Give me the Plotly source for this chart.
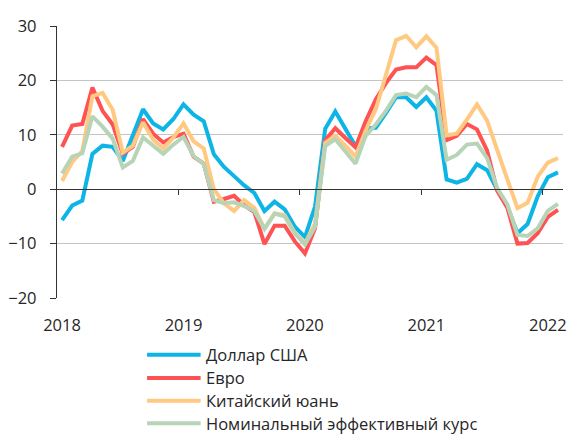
import plotly.graph_objects as go

# Monthly data, Jan 2018 – Feb 2022 (% change, y/y)
months = list(range(50))
year_labels = ["2018", "2019", "2020", "2021", "2022"]
year_pos = [0, 12, 24, 36, 48]
year_bounds = [11.5, 23.5, 35.5, 47.5]

usd = [-5.7, -3.0, -2.1, 6.5, 8.0, 7.8, 5.2, 9.9, 14.7, 12.1, 11.0, 12.9,
       15.6, 13.7, 12.5, 6.4, 4.1, 2.4, 0.7, -0.7, -4.0, -2.3, -3.7, -6.9,
       -8.8, -3.2, 11.1, 14.3, 11.0, 7.9, 11.2, 11.3, 14.0, 16.9, 16.9, 15.1,
       16.9, 14.4, 1.8, 1.2, 1.9, 4.6, 3.5, -0.1, -3.2, -8.1, -6.4, -1.3,
       2.2, 3.1]
eur = [7.8, 11.7, 12.0, 18.7, 14.4, 11.9, 6.5, 7.8, 12.9, 10.2, 8.6, 9.6,
       10.2, 6.0, 4.7, -2.3, -1.8, -1.2, -3.0, -4.2, -10.1, -6.7, -6.7, -9.6,
       -11.8, -7.2, 9.0, 11.2, 9.4, 7.7, 12.5, 16.5, 19.5, 22.0, 22.4, 22.4,
       24.2, 22.8, 9.0, 9.8, 12.0, 11.0, 7.1, -0.3, -3.4, -10.0, -9.9, -8.1,
       -5.1, -3.8]
cny = [1.5, 5.0, 7.0, 17.1, 17.7, 14.6, 6.7, 8.0, 12.3, 9.1, 7.5, 9.5,
       12.1, 8.8, 7.5, 0.0, -2.6, -4.0, -2.0, -3.4, -7.3, -4.4, -4.8, -8.0,
       -10.0, -6.3, 8.5, 9.8, 8.0, 6.0, 10.8, 14.7, 21.0, 27.4, 28.2, 26.1,
       28.1, 26.0, 9.9, 10.2, 12.8, 15.6, 12.6, 7.0, 1.8, -3.5, -2.5, 2.3,
       4.9, 5.7]
neer = [2.9, 6.0, 6.6, 13.4, 11.5, 9.3, 4.0, 5.2, 9.5, 8.0, 6.5, 8.2,
        9.6, 6.1, 4.6, -2.0, -2.6, -2.4, -3.1, -4.0, -7.3, -4.5, -5.0, -8.1,
        -10.2, -6.9, 7.9, 9.2, 7.0, 4.7, 9.8, 11.9, 14.4, 17.3, 17.6, 16.9,
        18.8, 17.3, 5.4, 6.3, 8.2, 8.4, 5.7, 0.2, -2.8, -8.4, -8.6, -7.2,
        -4.0, -2.7]

names = ["Доллар США", "Евро", "Китайский юань", "Номинальный эффективный курс"]
series = [usd, eur, cny, neer]
colors = ["#0DB4E6", "#FF5252", "#FFC982", "#B7D4B7"]

FONT = "Open Sans"
TXT = "#262626"
FS = 16.5

fig = go.Figure()
for nm, ys, c in zip(names, series, colors):
    fig.add_trace(go.Scatter(x=months, y=ys, mode="lines", name=nm,
                             line=dict(color=c, width=4), showlegend=False))

# invisible helper trace for the axis drawn at y = 0
fig.add_trace(go.Scatter(x=months, y=[None] * len(months), xaxis="x2",
                         showlegend=False, hoverinfo="skip"))

# custom legend (long line swatches)
leg_rows = [-0.2085, -0.294, -0.3776, -0.4607]
for nm, c, yy in zip(names, colors, leg_rows):
    fig.add_shape(type="line", xref="paper", yref="paper",
                  x0=0.178, x1=0.2838, y0=yy, y1=yy,
                  line=dict(color=c, width=4))
    fig.add_annotation(xref="paper", yref="paper", x=0.291, y=yy,
                       text=nm, showarrow=False, xanchor="left", yanchor="middle",
                       font=dict(family=FONT, size=FS, color=TXT))

fig.update_layout(
    width=574, height=436,
    margin=dict(l=57, r=7, t=26, b=138),
    paper_bgcolor="white", plot_bgcolor="white",
    font=dict(family=FONT, size=FS, color=TXT),
    showlegend=False,
    xaxis=dict(range=[-0.5, 49.5], tickvals=year_pos, ticktext=year_labels,
               showgrid=False, zeroline=False, showline=False,
               ticks="outside", ticklen=12, tickcolor="rgba(0,0,0,0)",
               tickfont=dict(family=FONT, size=FS, color=TXT)),
    xaxis2=dict(range=[-0.5, 49.5], overlaying="x", anchor="free", position=0.4,
                side="bottom", tickvals=year_bounds, showticklabels=False,
                ticks="outside", ticklen=5, tickwidth=1.3, tickcolor="#333333",
                showline=True, linecolor="#333333", linewidth=1.3,
                showgrid=False, zeroline=False),
    yaxis=dict(range=[-20, 30], tickvals=[-20, -10, 0, 10, 20, 30],
               showgrid=True, gridcolor="#C4C4C4", gridwidth=1.3,
               zeroline=False, showline=True, linecolor="#333333", linewidth=1.3,
               ticks="outside", ticklen=6, tickwidth=1.3, tickcolor="#333333",
               ticklabelstandoff=10,
               tickfont=dict(family=FONT, size=FS, color=TXT)),
)

fig.write_html("out.html", config={"displayModeBar": False},
               post_script="document.body.style.margin='0px';")
